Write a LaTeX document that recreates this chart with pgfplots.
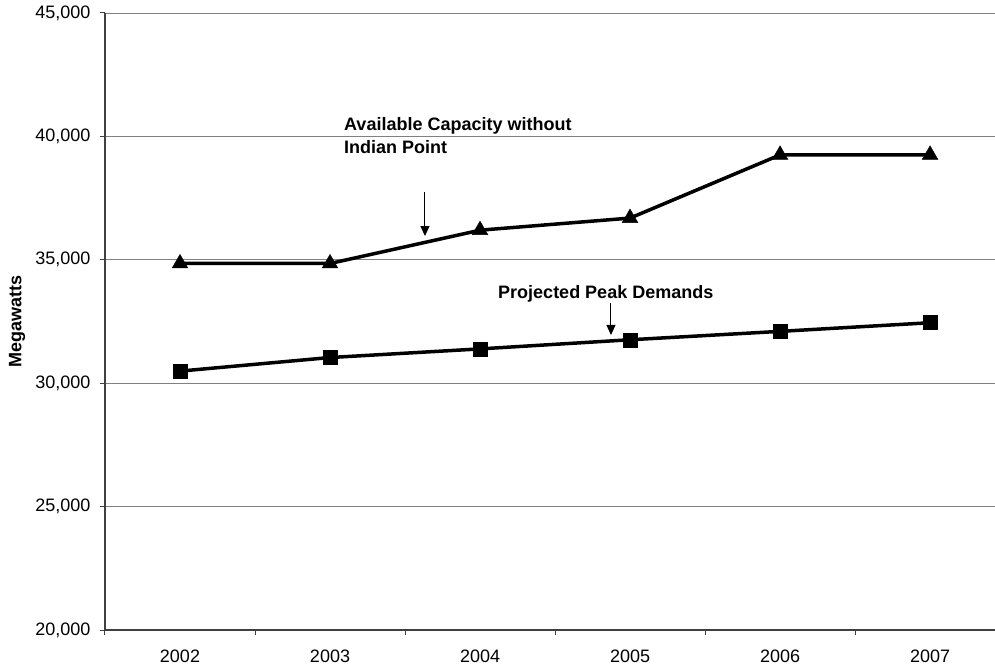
\documentclass[border=0pt]{standalone}
\usepackage{fontspec}
\setmainfont{Liberation Sans}
\usepackage{pgfplots}
\pgfplotsset{compat=1.18}
\usetikzlibrary{arrows.meta}

\newcommand{\chartfont}{\fontsize{18bp}{22bp}\selectfont}

\begin{document}
\begin{tikzpicture}
\begin{axis}[
  name=ax,
  scale only axis,
  width=890bp, height=617bp,
  xmin=-0.5, xmax=5.433,
  ymin=20000, ymax=45000,
  axis x line*=bottom,
  axis y line*=left,
  axis line style={draw=black!75, line width=1.4bp},
  xtick={0,1,2,3,4,5},
  xticklabels={2002,2003,2004,2005,2006,2007},
  major x tick style={draw=none},
  minor xtick={-0.5,0.5,1.5,2.5,3.5,4.5},
  minor x tick style={draw=black!75, line width=1bp},
  minor tick length=5bp,
  ytick={20000,25000,...,45000},
  scaled y ticks=false,
  major tick length=5bp,
  tick align=outside,
  y tick style={draw=black!75, line width=1bp},
  ymajorgrids,
  major grid style={draw=black!50, line width=0.9bp},
  tick label style={font=\chartfont, text=black},
  xticklabel style={yshift=-11bp},
  yticklabel style={xshift=-6bp},
  /pgf/number format/.cd, fixed, 1000 sep={,}, assume math mode=true,
  /pgfplots/.cd,
  ylabel={\bfseries Megawatts},
  ylabel style={font=\chartfont, at={(axis description cs:-0.0989,0.5)}, anchor=center, rotate=0},
  clip=false,
]
% Available capacity without Indian Point
\addplot[black, line width=3.5bp, mark=triangle*, mark size=9bp,
  mark options={line width=0.5bp}]
  coordinates {(0,34850) (1,34850) (2,36200) (3,36690) (4,39250) (5,39250)};
% Projected peak demands
\addplot[black, line width=3.5bp, mark=square*, mark size=7bp,
  mark options={line width=0.5bp}]
  coordinates {(0,30490) (1,31040) (2,31390) (3,31760) (4,32100) (5,32450)};

\node[font=\chartfont\bfseries, anchor=base west, align=left, inner sep=0pt]
  at (axis cs:1.093,39315) {Available Capacity without\\[1bp]Indian Point};
\draw[-{Triangle[length=10bp,width=9bp]}, line width=1bp]
  (axis cs:1.633,37747) -- (axis cs:1.633,35964);

\node[font=\chartfont\bfseries, anchor=base west, inner sep=0pt]
  at (axis cs:2.12,33412) {Projected Peak Demands};
\draw[-{Triangle[length=10bp,width=9bp]}, line width=1bp]
  (axis cs:2.873,33250) -- (axis cs:2.873,31953);
\end{axis}
\pgfresetboundingbox
\useasboundingbox ([shift={(-105bp,-39bp)}]ax.south west)
  rectangle ([shift={(0bp,13bp)}]ax.north east);
\end{tikzpicture}
\end{document}
